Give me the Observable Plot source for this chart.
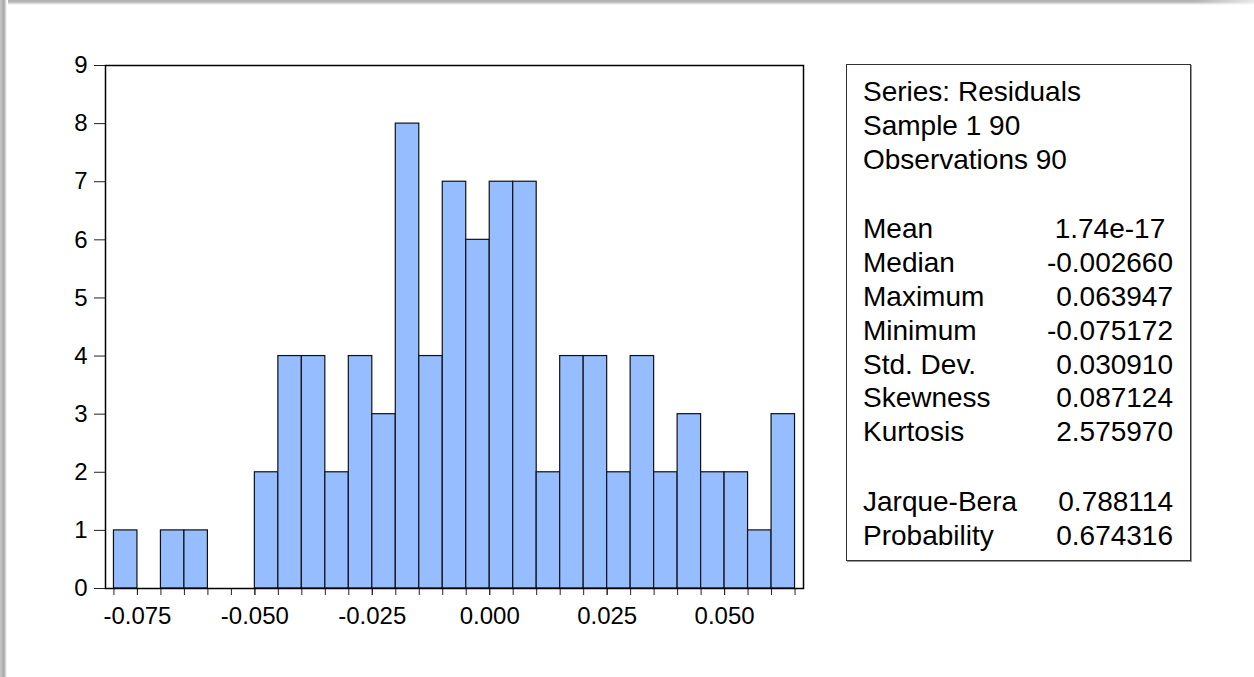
<!DOCTYPE html>
<html>
<head>
<meta charset="utf-8">
<script src="https://cdn.jsdelivr.net/npm/d3@7"></script>
<script src="https://cdn.jsdelivr.net/npm/@observablehq/plot@0.6"></script>
<style>
  html, body { margin: 0; padding: 0; background: #fff; overflow: hidden; }
  #page { position: relative; width: 1254px; height: 677px; background: #fff; }
  #topband { position: absolute; left: 0; top: 0; width: 1254px; height: 7px;
    background: linear-gradient(to bottom, #b0b0b0 0px, #b8b8b8 2px, #ffffff 5px); }
  #topfade { position: absolute; right: 0; top: 0; width: 60px; height: 7px;
    background: linear-gradient(to right, rgba(255,255,255,0), rgba(255,255,255,0.7)); }
  #leftband { position: absolute; left: 0; top: 0; width: 8px; height: 677px;
    background: linear-gradient(to right, #c8c8c8 0px, #a8a8a8 4px, #ffffff 7px); }
  #chart { position: absolute; left: 0; top: 0; }
  #stats { position: absolute; left: 846px; top: 64px; width: 343px; height: 495px;
    border: 1px solid #333; background: #fff; box-shadow: 1px 1px 0 #999;
    font-family: "Liberation Sans", Arial, sans-serif; font-size: 28px; color: #000;
    box-sizing: content-box; padding: 0; }
  #stats .inner { position: absolute; left: 16px; right: 17px; top: 10px; }
  #stats .row { display: flex; justify-content: space-between; height: 33.8px; line-height: 33.8px; white-space: pre; }
  #stats .gap { height: 36px; }
</style>
</head>
<body>
<div id="page">
  <div id="chart"></div>
  <div id="topband"></div>
  <div id="topfade"></div>
  <div id="leftband"></div>
  <div id="stats"><div class="inner" id="statsInner"></div></div>
</div>
<script>
// Histogram bins (left edges) and counts
const binStarts = [-0.080, -0.075, -0.070, -0.065, -0.060, -0.055, -0.050, -0.045, -0.040, -0.035,
                   -0.030, -0.025, -0.020, -0.015, -0.010, -0.005, 0.000, 0.005, 0.010, 0.015,
                   0.020, 0.025, 0.030, 0.035, 0.040, 0.045, 0.050, 0.055, 0.060];
const counts = [1, 0, 1, 1, 0, 0, 2, 4, 4, 2,
                4, 3, 8, 4, 7, 6, 7, 7, 2, 4,
                4, 2, 4, 2, 3, 2, 2, 1, 3];
const binWidth = 0.005;

// Axis ticks
const xMinorTicks = [-0.080, -0.075, -0.070, -0.065, -0.060, -0.055, -0.050, -0.045, -0.040, -0.035,
                     -0.030, -0.025, -0.020, -0.015, -0.010, -0.005, 0.000, 0.005, 0.010, 0.015,
                     0.020, 0.025, 0.030, 0.035, 0.040, 0.045, 0.050, 0.055, 0.060, 0.065];
const xLabelTicks = [-0.075, -0.050, -0.025, 0.000, 0.025, 0.050];
const yTicks = [0, 1, 2, 3, 4, 5, 6, 7, 8, 9];

// Statistics panel
const headerLines = ["Series: Residuals", "Sample 1 90", "Observations 90"];
const statNames1 = ["Mean", "Median", "Maximum", "Minimum", "Std. Dev.", "Skewness", "Kurtosis"];
const statValues1 = ["1.74e-17 ", "-0.002660", "0.063947", "-0.075172", "0.030910", "0.087124", "2.575970"];
const statNames2 = ["Jarque-Bera", "Probability"];
const statValues2 = ["0.788114", "0.674316"];

const bins = binStarts
  .map((x0, i) => ({x0, x1: x0 + binWidth, count: counts[i]}))
  .filter(d => d.count > 0);

const chart = Plot.plot({
  width: 1254,
  height: 677,
  marginLeft: 105,
  marginRight: 451,
  marginTop: 65,
  marginBottom: 89,
  style: {background: "transparent", color: "#000", fontFamily: "'Liberation Sans', Arial, sans-serif"},
  x: {domain: [-0.0818, 0.0668], label: null},
  y: {domain: [0, 9], label: null},
  marks: [
    Plot.rectY(bins, {x1: "x0", x2: "x1", y: "count", fill: "#95BDFF", stroke: "#111", strokeWidth: 1.2}),
    Plot.axisX({ticks: xMinorTicks, tickSize: 7, tickFormat: () => "", stroke: "#222", label: null}),
    Plot.axisX({ticks: xLabelTicks, tickSize: 7, tickPadding: 11, fontSize: 24,
                tickFormat: d => d.toFixed(3), stroke: "#222", label: null}),
    Plot.axisY({ticks: yTicks, tickSize: 11, tickPadding: 7, fontSize: 24, stroke: "#222", label: null}),
    Plot.frame({stroke: "#000", strokeWidth: 1.5})
  ]
});
document.getElementById("chart").appendChild(chart);

const inner = document.getElementById("statsInner");
function addRow(name, value) {
  const r = document.createElement("div");
  r.className = "row";
  const a = document.createElement("span"); a.textContent = name;
  const b = document.createElement("span"); b.textContent = value;
  r.appendChild(a); r.appendChild(b);
  inner.appendChild(r);
}
function addGap() {
  const g = document.createElement("div"); g.className = "gap"; inner.appendChild(g);
}
headerLines.forEach(t => addRow(t, ""));
addGap();
statNames1.forEach((n, i) => addRow(n, statValues1[i]));
addGap();
statNames2.forEach((n, i) => addRow(n, statValues2[i]));
</script>
</body>
</html>
